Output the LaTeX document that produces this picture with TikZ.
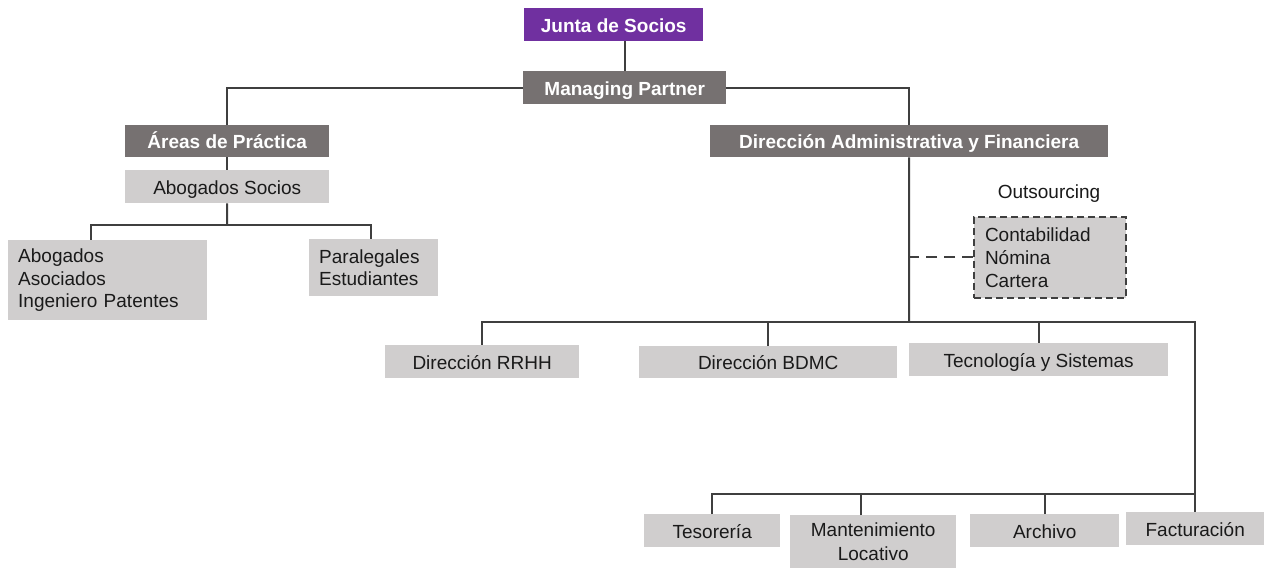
\documentclass[tikz,border=0pt]{standalone}
\usepackage{fontspec}
\setmainfont{Liberation Sans}
\definecolor{purp}{HTML}{7030A0}
\definecolor{dgray}{HTML}{767171}
\definecolor{lgray}{HTML}{D0CECE}
\definecolor{linec}{HTML}{3F3F3F}
\definecolor{txt}{HTML}{1A1A1A}
\begin{document}
\begin{tikzpicture}[x=1pt,y=-1pt,
  base/.style={rectangle, inner sep=0pt, anchor=north west, font=\fontsize{19}{22.5}\selectfont},
  one/.style={text height=15pt, text depth=0pt},
  head/.style={base, one, fill=dgray, text=white, font=\fontsize{19}{22.5}\selectfont\bfseries},
  top/.style={head, fill=purp},
  light/.style={base, fill=lgray, text=txt},
  conn/.style={draw=linec, line width=2pt},
  dconn/.style={conn, dash pattern=on 11pt off 7pt}]
\useasboundingbox (0,0) rectangle (1264,569);
\fill[white] (0,0) rectangle (1264,569);
% nodes
\node[top, minimum width=179pt, minimum height=33pt] (js) at (524,8) {Junta de Socios};
\node[head, minimum width=203pt, minimum height=33pt] (mp) at (523,71) {Managing Partner};
\node[head, minimum width=204pt, minimum height=32pt] (ap) at (125,125) {Áreas de Práctica};
\node[head, minimum width=398pt, minimum height=32pt] (daf) at (710,125) {Dirección Administrativa y Financiera};
\node[light, one, minimum width=204pt, minimum height=33pt] (as) at (125,170) {Abogados Socios};
\node[light, text width=179pt, inner xsep=10pt, minimum height=80pt, align=left] (ab) at (8,240) {Abogados\\Asociados\\Ingeniero Patentes};
\node[light, text width=109pt, inner xsep=10pt, minimum height=57pt, align=left] (pl) at (309,239) {Paralegales\\Estudiantes};
\node[base, one, text=txt, anchor=center] (ol) at (1049,191) {Outsourcing};
\node[light, draw=linec, line width=2pt, dash pattern=on 7pt off 4pt, text width=130pt, inner xsep=11pt, minimum height=81pt, align=left, font=\fontsize{19}{23}\selectfont] (out) at (973,216) {Contabilidad\\Nómina\\Cartera};
\node[light, one, minimum width=194pt, minimum height=33pt] (rrhh) at (385,345) {Dirección RRHH};
\node[light, one, minimum width=258pt, minimum height=32pt] (bdmc) at (639,346) {Dirección BDMC};
\node[light, one, minimum width=259pt, minimum height=33pt] (tec) at (909,343) {Tecnología y Sistemas};
\node[light, one, minimum width=136pt, minimum height=33pt] (tes) at (644,514) {Tesorería};
\node[light, minimum width=166pt, minimum height=53pt, align=center, font=\fontsize{19}{24}\selectfont] (man) at (790,515) {Mantenimiento\\Locativo};
\node[light, one, minimum width=149pt, minimum height=33pt] (arc) at (970,514) {Archivo};
\node[light, one, minimum width=138pt, minimum height=33pt] (fac) at (1126,512) {Facturación};
% junction coordinates
\coordinate (j1) at (227,225);
\coordinate (j2) at (909,322);
\coordinate (j3) at (1195,494);
% connectors
\draw[conn] (mp.north) -- (mp.north |- js.south);
\draw[conn] (mp.west) -| (ap.north);
\draw[conn] (mp.east) -| (daf.north);
\draw[conn] (ap.south) -- (as.north);
\draw[conn] (as.south) -- (j1);
\draw[conn] ([xshift=-17pt]ab.north) |- (j1) -| ([xshift=-3pt]pl.north);
\draw[conn] (daf.south) -- (j2);
\draw[conn] (rrhh.north) |- (j2) -| (fac.north);
\draw[conn] (bdmc.north) -- (bdmc.north |- j2);
\draw[conn] (tec.north) -- (tec.north |- j2);
\draw[conn] (tes.north) |- (j3);
\draw[conn] ([xshift=-12pt]man.north) -- ([xshift=-12pt]man.north |- j3);
\draw[conn] (arc.north) -- (arc.north |- j3);
\draw[dconn] (out.west) -- (daf.south |- out.west);
\end{tikzpicture}
\end{document}
